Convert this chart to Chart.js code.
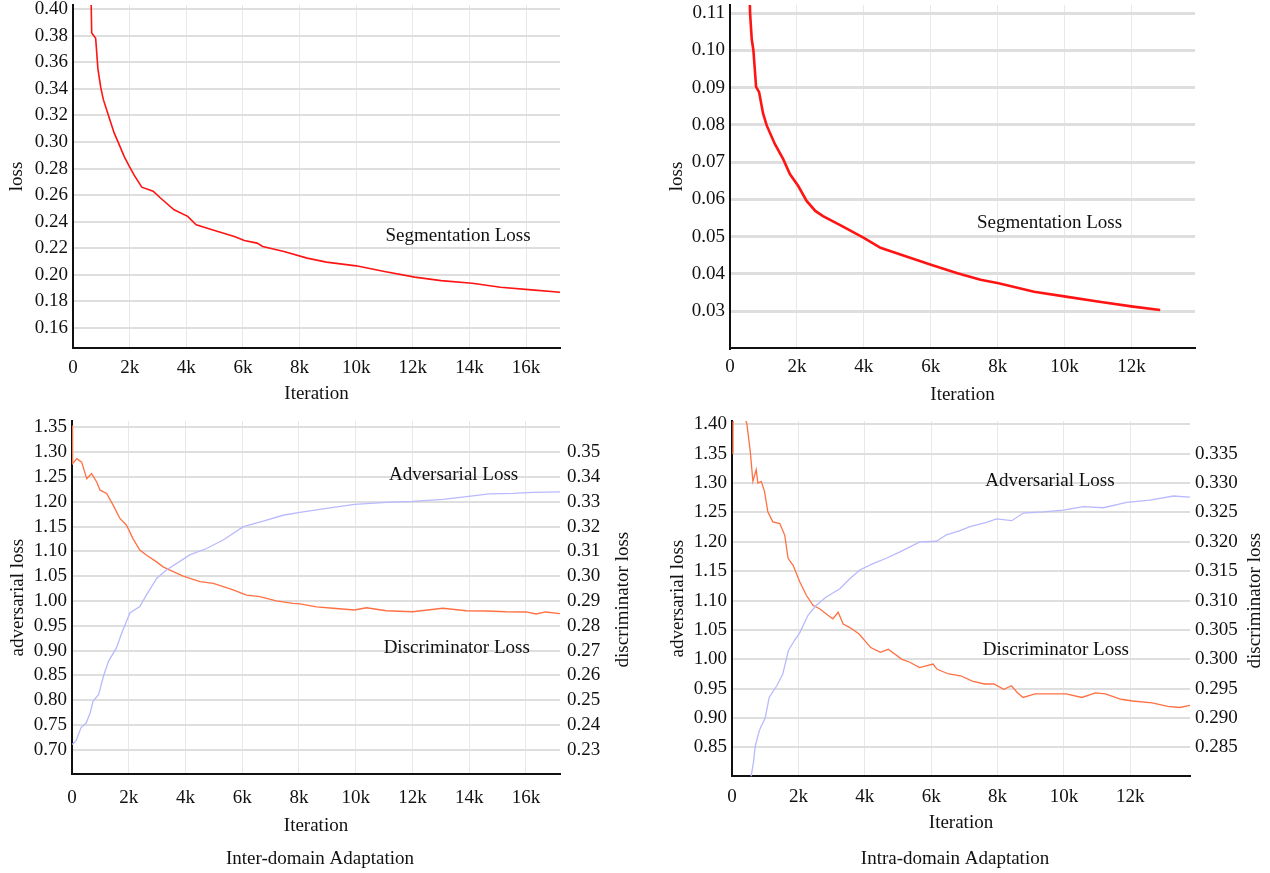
<!DOCTYPE html>
<html>
<head>
<meta charset="utf-8">
<script src="https://cdn.jsdelivr.net/npm/chart.js@4.4.0/dist/chart.umd.min.js"></script>
<style>
  body { margin: 0; background: #fff; width: 1270px; height: 873px; position: relative; overflow: hidden; }
  canvas { position: absolute; }
</style>
</head>
<body>
<canvas id="g1" width="620" height="410" style="left:0;top:0"></canvas>
<canvas id="g2" width="630" height="410" style="left:640px;top:0"></canvas>
<canvas id="g3" width="640" height="458" style="left:0;top:415px"></canvas>
<canvas id="g4" width="630" height="458" style="left:640px;top:415px"></canvas>
<script>
// iterations are in thousands (k)
const segInterX = [0.62, 0.66, 0.80, 0.88, 0.98, 1.07, 1.25, 1.45, 1.59, 1.81, 1.98, 2.16, 2.43, 2.83, 3.08, 3.57, 4.05, 4.35, 5.0, 5.7, 6.05, 6.5, 6.7, 7.45, 8.27, 8.95, 10.0, 11.0, 12.07, 13.0, 14.1, 15.1, 16.2, 17.3];
const segInterY = [0.43, 0.382, 0.378, 0.355, 0.341, 0.332, 0.320, 0.307, 0.300, 0.289, 0.282, 0.275, 0.266, 0.263, 0.258, 0.249, 0.244, 0.2377, 0.2334, 0.2289, 0.2259, 0.2239, 0.2214, 0.2176, 0.2126, 0.2096, 0.2068, 0.2025, 0.1983, 0.1957, 0.1937, 0.1907, 0.1887, 0.1867];

const segIntraX = [0.58, 0.60, 0.65, 0.70, 0.78, 0.87, 0.99, 1.10, 1.34, 1.59, 1.79, 2.04, 2.29, 2.55, 2.78, 3.35, 4.0, 4.5, 4.96, 6.03, 6.8, 7.49, 8.03, 9.09, 10.04, 11.04, 12.05, 12.86];
const segIntraY = [0.118, 0.110, 0.103, 0.100, 0.0902, 0.0888, 0.083, 0.0798, 0.0749, 0.0708, 0.0668, 0.0636, 0.0596, 0.0569, 0.0555, 0.0528, 0.0497, 0.047, 0.0456, 0.0424, 0.0402, 0.0384, 0.0375, 0.0352, 0.0339, 0.0325, 0.0312, 0.0303];

const advInterX = [0.01, 0.14, 0.32, 0.5, 0.64, 0.74, 0.94, 1.11, 1.29, 1.57, 1.75, 2.04, 2.39, 2.63, 2.99, 3.34, 3.8, 4.15, 4.74, 5.33, 6.04, 6.74, 7.44, 8.03, 8.97, 9.96, 11.08, 12.0, 13.07, 14.13, 14.7, 15.54, 16.25, 17.2];
const advInterY = [0.711, 0.718, 0.745, 0.754, 0.775, 0.798, 0.812, 0.849, 0.879, 0.906, 0.935, 0.976, 0.989, 1.013, 1.046, 1.063, 1.080, 1.093, 1.106, 1.123, 1.150, 1.161, 1.173, 1.179, 1.187, 1.195, 1.199, 1.201, 1.205, 1.212, 1.216, 1.217, 1.219, 1.220];

const discInterX = [0.0, 0.02, 0.17, 0.34, 0.52, 0.69, 0.87, 0.99, 1.22, 1.45, 1.69, 1.92, 2.15, 2.39, 2.63, 2.98, 3.21, 3.45, 3.92, 4.51, 4.98, 5.68, 6.15, 6.62, 7.2, 7.79, 8.03, 8.62, 9.2, 9.96, 10.38, 11.08, 12.0, 13.07, 13.9, 14.6, 15.3, 16.0, 16.36, 16.7, 17.2];
const discInterY = [0.3608, 0.3454, 0.3474, 0.3460, 0.3393, 0.3414, 0.338, 0.3347, 0.3334, 0.3287, 0.3233, 0.3206, 0.3152, 0.3106, 0.3085, 0.3058, 0.3038, 0.3025, 0.3001, 0.2978, 0.2971, 0.2945, 0.2924, 0.2918, 0.2901, 0.2891, 0.2889, 0.2877, 0.2871, 0.2864, 0.2873, 0.2861, 0.2857, 0.2871, 0.2861, 0.2860, 0.2857, 0.2856, 0.2848, 0.2856, 0.2849];

const advIntraX = [0.56, 0.65, 0.70, 0.82, 0.88, 1.0, 1.12, 1.35, 1.53, 1.7, 1.88, 2.04, 2.29, 2.54, 2.84, 3.25, 3.55, 3.85, 4.25, 4.65, 5.06, 5.66, 6.16, 6.46, 6.87, 7.17, 7.67, 7.97, 8.43, 8.78, 9.38, 9.98, 10.59, 11.19, 11.89, 12.6, 13.3, 13.8];
const advIntraY = [0.795, 0.826, 0.852, 0.878, 0.886, 0.900, 0.935, 0.955, 0.975, 1.015, 1.032, 1.045, 1.075, 1.092, 1.106, 1.120, 1.137, 1.152, 1.163, 1.172, 1.183, 1.200, 1.201, 1.212, 1.219, 1.226, 1.233, 1.239, 1.236, 1.249, 1.251, 1.254, 1.260, 1.258, 1.267, 1.271, 1.278, 1.276];

const discIntraX = [0.0, 0.03, 0.2, 0.45, 0.55, 0.63, 0.73, 0.78, 0.88, 0.98, 1.08, 1.23, 1.44, 1.59, 1.69, 1.84, 2.04, 2.24, 2.44, 2.64, 2.89, 3.04, 3.2, 3.35, 3.55, 3.83, 4.18, 4.47, 4.71, 5.12, 5.36, 5.65, 6.06, 6.18, 6.53, 6.89, 7.24, 7.6, 7.89, 8.19, 8.42, 8.6, 8.77, 9.13, 9.6, 10.07, 10.54, 10.95, 11.25, 11.72, 12.07, 12.66, 13.13, 13.49, 13.84];
const discIntraY = [0.3351, 0.3403, 0.345, 0.340, 0.3354, 0.3303, 0.3323, 0.3300, 0.3303, 0.3286, 0.3251, 0.3234, 0.3231, 0.3211, 0.3172, 0.316, 0.3132, 0.3109, 0.3092, 0.3086, 0.3075, 0.3069, 0.3080, 0.3060, 0.3054, 0.3043, 0.302, 0.3012, 0.3017, 0.300, 0.2995, 0.2986, 0.2992, 0.2983, 0.2975, 0.2972, 0.2963, 0.2958, 0.2958, 0.2949, 0.2955, 0.2943, 0.2935, 0.2941, 0.2941, 0.2941, 0.2935, 0.2943, 0.2941, 0.2932, 0.2929, 0.2926, 0.2920, 0.2918, 0.2922];

const serif = "'Liberation Serif', 'Times New Roman', serif";
Chart.defaults.font.family = serif;
Chart.defaults.font.size = 19;
Chart.defaults.color = '#111';

function pts(xs, ys) {
  return xs.map((x, i) => ({x: x, y: ys[i]}));
}

// text inside the plot and the upward reading right title
function notes(items, sideTitle) {
  return {
    id: 'notes',
    afterDraw(chart) {
      const ctx = chart.ctx;
      ctx.save();
      ctx.font = '19px ' + serif;
      ctx.fillStyle = '#111';
      ctx.textAlign = 'center';
      ctx.textBaseline = 'middle';
      items.forEach(n => {
        ctx.fillText(n.text, chart.scales.x.getPixelForValue(n.x), chart.scales.y.getPixelForValue(n.y));
      });
      if (sideTitle) {
        const r = chart.scales.y2;
        const a = chart.chartArea;
        ctx.translate(r.right - sideTitle.offset, (a.top + a.bottom) / 2 + 2);
        ctx.rotate(-Math.PI / 2);
        ctx.fillText(sideTitle.text, 0, 0);
      }
      ctx.restore();
    }
  };
}

function xAxis(max, tickPad, titlePad, height) {
  return {
    type: 'linear', min: 0, max: max,
    ticks: {stepSize: 2, padding: tickPad, maxRotation: 0, autoSkip: false, includeBounds: false,
      callback: v => v === 0 ? '0' : v + 'k'},
    grid: {color: '#e8e8e8', lineWidth: 1, drawTicks: false},
    border: {color: '#111', width: 2},
    title: {display: true, text: 'Iteration', padding: {top: 0, bottom: titlePad}},
    afterFit: s => { s.height = height; s.paddingLeft = 0; s.paddingRight = 0; }
  };
}

function yAxis(o) {
  return {
    type: 'linear', position: 'left', min: o.min, max: o.max,
    ticks: {stepSize: o.step, padding: 5, includeBounds: false, callback: v => v.toFixed(2)},
    grid: {color: '#dedede', lineWidth: o.gridW || 2, drawTicks: false},
    border: {color: '#111', width: 2},
    title: {display: true, text: o.title, padding: {top: o.titlePad, bottom: 0}},
    afterFit: s => { s.width = o.width; s.paddingTop = 0; s.paddingBottom = 0; }
  };
}

function rightAxis(o) {
  return {
    type: 'linear', position: 'right', min: o.min, max: o.max,
    ticks: {stepSize: o.step, padding: o.pad, includeBounds: false,
      callback: v => (v > o.top + 1e-6 || v < o.bottom - 1e-6) ? '' : v.toFixed(o.dec)},
    grid: {display: false, drawTicks: false},
    border: {display: false},
    afterFit: s => { s.width = o.width; s.paddingTop = 0; s.paddingBottom = 0; }
  };
}

function line(data, color, width, axis) {
  return {data: data, borderColor: color, borderWidth: width, pointRadius: 0, tension: 0, yAxisID: axis || 'y'};
}

const base = {
  responsive: false, animation: false, devicePixelRatio: 1, events: []
};

// Segmentation loss, inter-domain
new Chart(document.getElementById('g1'), {
  type: 'line',
  data: {datasets: [line(pts(segInterX, segInterY), '#ff1414', 1.6)]},
  options: Object.assign({}, base, {
    layout: {padding: {left: 0, top: 5, right: 60, bottom: 0}},
    plugins: {legend: {display: false}, tooltip: {enabled: false}},
    scales: {
      x: xAxis(17.2, 9, 5, 62),
      y: yAxis({min: 0.145, max: 0.403, step: 0.02, title: 'loss', titlePad: 6, width: 73})
    }
  }),
  plugins: [notes([{text: 'Segmentation Loss', x: 13.6, y: 0.2294}])]
});

// Segmentation loss, intra-domain
new Chart(document.getElementById('g2'), {
  type: 'line',
  data: {datasets: [line(pts(segIntraX, segIntraY), '#ff1414', 2.6)]},
  options: Object.assign({}, base, {
    layout: {padding: {left: 0, top: 5, right: 75, bottom: 0}},
    plugins: {legend: {display: false}, tooltip: {enabled: false}},
    scales: {
      x: xAxis(13.9, 8, 4, 62),
      y: yAxis({min: 0.0201, max: 0.1122, step: 0.01, title: 'loss', titlePad: 26, width: 90, gridW: 3})
    }
  }),
  plugins: [notes([{text: 'Segmentation Loss', x: 9.55, y: 0.0536}])]
});

const captionFont = {size: 19, weight: 'normal', family: serif};

// Inter-domain adaptation
new Chart(document.getElementById('g3'), {
  type: 'line',
  data: {datasets: [
    line(pts(advInterX, advInterY), '#b9b9ff', 1.3, 'y'),
    line(pts(discInterX, discInterY), '#ff7043', 1.3, 'y2')
  ]},
  options: Object.assign({}, base, {
    layout: {padding: {left: 0, top: 6, right: 0, bottom: 0}},
    plugins: {
      legend: {display: false}, tooltip: {enabled: false},
      title: {display: true, position: 'bottom', text: 'Inter-domain Adaptation', font: captionFont, color: '#111', padding: {top: 8, bottom: 3}}
    },
    scales: {
      x: xAxis(17.2, 12, 2, 65),
      y: yAxis({min: 0.651, max: 1.363, step: 0.05, title: 'adversarial loss', titlePad: 7, width: 72}),
      y2: rightAxis({min: 0.2202, max: 0.3626, step: 0.01, pad: 7, width: 80, dec: 2, top: 0.35, bottom: 0.23})
    }
  }),
  plugins: [notes([
    {text: 'Adversarial Loss', x: 13.45, y: 1.2536},
    {text: 'Discriminator Loss', x: 13.56, y: 0.9062}
  ], {text: 'discriminator loss', offset: 17})]
});

// Intra-domain adaptation
new Chart(document.getElementById('g4'), {
  type: 'line',
  data: {datasets: [
    line(pts(advIntraX, advIntraY), '#b9b9ff', 1.3, 'y'),
    line(pts(discIntraX, discIntraY), '#ff7043', 1.3, 'y2')
  ]},
  options: Object.assign({}, base, {
    layout: {padding: {left: 0, top: 6, right: 0, bottom: 0}},
    plugins: {
      legend: {display: false}, tooltip: {enabled: false},
      title: {display: true, position: 'bottom', text: 'Intra-domain Adaptation', font: captionFont, color: '#111', padding: {top: 8, bottom: 3}}
    },
    scales: {
      x: xAxis(13.8, 9, 5, 63),
      y: yAxis({min: 0.801, max: 1.4057, step: 0.05, title: 'adversarial loss', titlePad: 27, width: 92}),
      y2: rightAxis({min: 0.2801, max: 0.34057, step: 0.005, pad: 5, width: 80, dec: 3, top: 0.335, bottom: 0.285})
    }
  }),
  plugins: [notes([
    {text: 'Adversarial Loss', x: 9.58, y: 1.3039},
    {text: 'Discriminator Loss', x: 9.76, y: 1.0163}
  ], {text: 'discriminator loss', offset: 15})]
});
</script>
</body>
</html>
